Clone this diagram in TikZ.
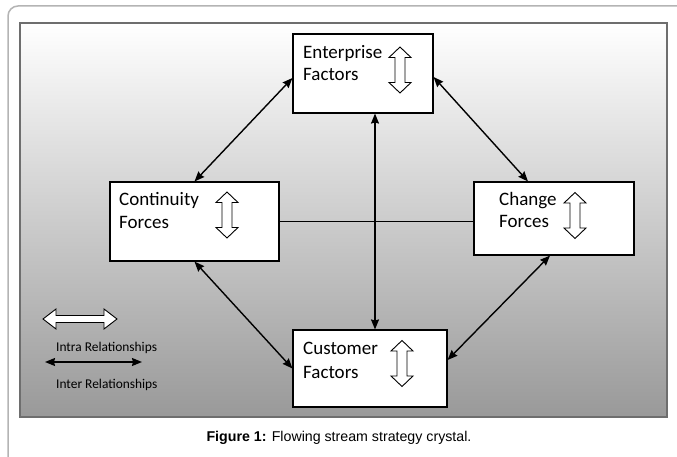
\documentclass[tikz,border=0pt]{standalone}
\usepackage{fontspec}
\setmainfont{Carlito}
\newfontfamily\capfont{Liberation Sans}
\usetikzlibrary{arrows.meta,calc}
\definecolor{framegray}{HTML}{B4B4B4}
\definecolor{panelgray}{HTML}{6E6E6E}
\begin{document}
\begin{tikzpicture}[x=1pt,y=-1pt,
  box/.style={draw=black,line width=1.1pt,fill=white,inner sep=0pt},
  lbl/.style={font=\fontsize{19}{22}\selectfont,inner sep=0pt,anchor=base west},
  leg/.style={font=\fontsize{13.4}{16}\selectfont,inner sep=0pt,anchor=base west},
  conn/.style={line width=1.4pt,{Stealth[length=10pt,width=8pt,inset=1pt]}-{Stealth[length=10pt,width=8pt,inset=1pt]}},
  plain/.style={line width=1.4pt},
  vhollow/.pic={\draw[fill=white,line width=0.9pt,line join=miter]
    (0,-23) -- (11,-12.5) -- (5,-12.5) -- (5,12.5) -- (11,12.5) -- (0,23)
    -- (-11,12.5) -- (-5,12.5) -- (-5,-12.5) -- (-11,-12.5) -- cycle;},
  hhollow/.pic={\draw[fill=white,line width=0.9pt,line join=miter]
    (-37,0) -- (-24,-10) -- (-24,-3.5) -- (24,-3.5) -- (24,-10) -- (37,0)
    -- (24,10) -- (24,3.5) -- (-24,3.5) -- (-24,10) -- cycle;}
]
\useasboundingbox (0,0) rectangle (677,457);
\fill[white] (0,0) rectangle (677,457);

% page frame
\draw[framegray,line width=1.5pt] (8,470) -- (8,16) arc[start angle=180,end angle=270,radius=10] -- (690,6);

% shaded panel
\shade[top color=white,bottom color=gray!80] (20,23) rectangle (667,417);
\draw[panelgray,line width=2pt] (20,23) rectangle (667,417);

% boxes
\node[box,minimum width=140pt,minimum height=79pt] (ent) at (363,73.5) {};
\node[box,minimum width=169pt,minimum height=79pt] (cont) at (194.5,221.5) {};
\node[box,minimum width=160pt,minimum height=73pt] (chg) at (554,218.5) {};
\node[box,minimum width=154pt,minimum height=77pt] (cust) at (370,368.5) {};

% box labels
\node[lbl] (entA) at (303,59) {Enterprise};
\node[lbl] (entB) at (303,81) {Factors};
\node[lbl] (contA) at (119,206) {Continuity};
\node[lbl] (contB) at (119,228) {Forces};
\node[lbl] (chgA) at (499,205) {Change};
\node[lbl] (chgB) at (499,227) {Forces};
\node[lbl] (custA) at (303,354) {Customer};
\node[lbl] (custB) at (303,378) {Factors};

% intra relationship markers
\pic at (400,70) {vhollow};
\pic at (227,215) {vhollow};
\pic at (575,215.5) {vhollow};
\pic at (402,363.5) {vhollow};

% inter relationships
\draw[conn] (cont.north) -- ([yshift=-4.5pt]ent.west);
\draw[conn] ([yshift=-3.5pt]ent.east) -- ([xshift=-26pt]chg.north);
\draw[conn] (cont.south) -- (cust.west);
\draw[conn] ([xshift=-4pt]chg.south) -- ([yshift=8.5pt]cust.east);
\draw[conn] ([xshift=12pt]ent.south) -- ([xshift=5pt]cust.north);
\draw[plain] (cont.east) -- (cont.east -| chg.west);

% legend
\pic at (80,319) {hhollow};
\node[leg] (intra) at (56,351) {Intra Relationships};
\coordinate (la) at (45,362);
\coordinate (lb) at (142,362);
\draw[conn] (la) -- (lb);
\node[leg] (inter) at (56,388) {Inter Relationships};

% caption
\node[font=\capfont\fontsize{14.2}{17}\selectfont,inner sep=0pt,anchor=base] (cap) at (339,441)
  {\textbf{Figure 1:} Flowing stream strategy crystal.};
\end{tikzpicture}
\end{document}
